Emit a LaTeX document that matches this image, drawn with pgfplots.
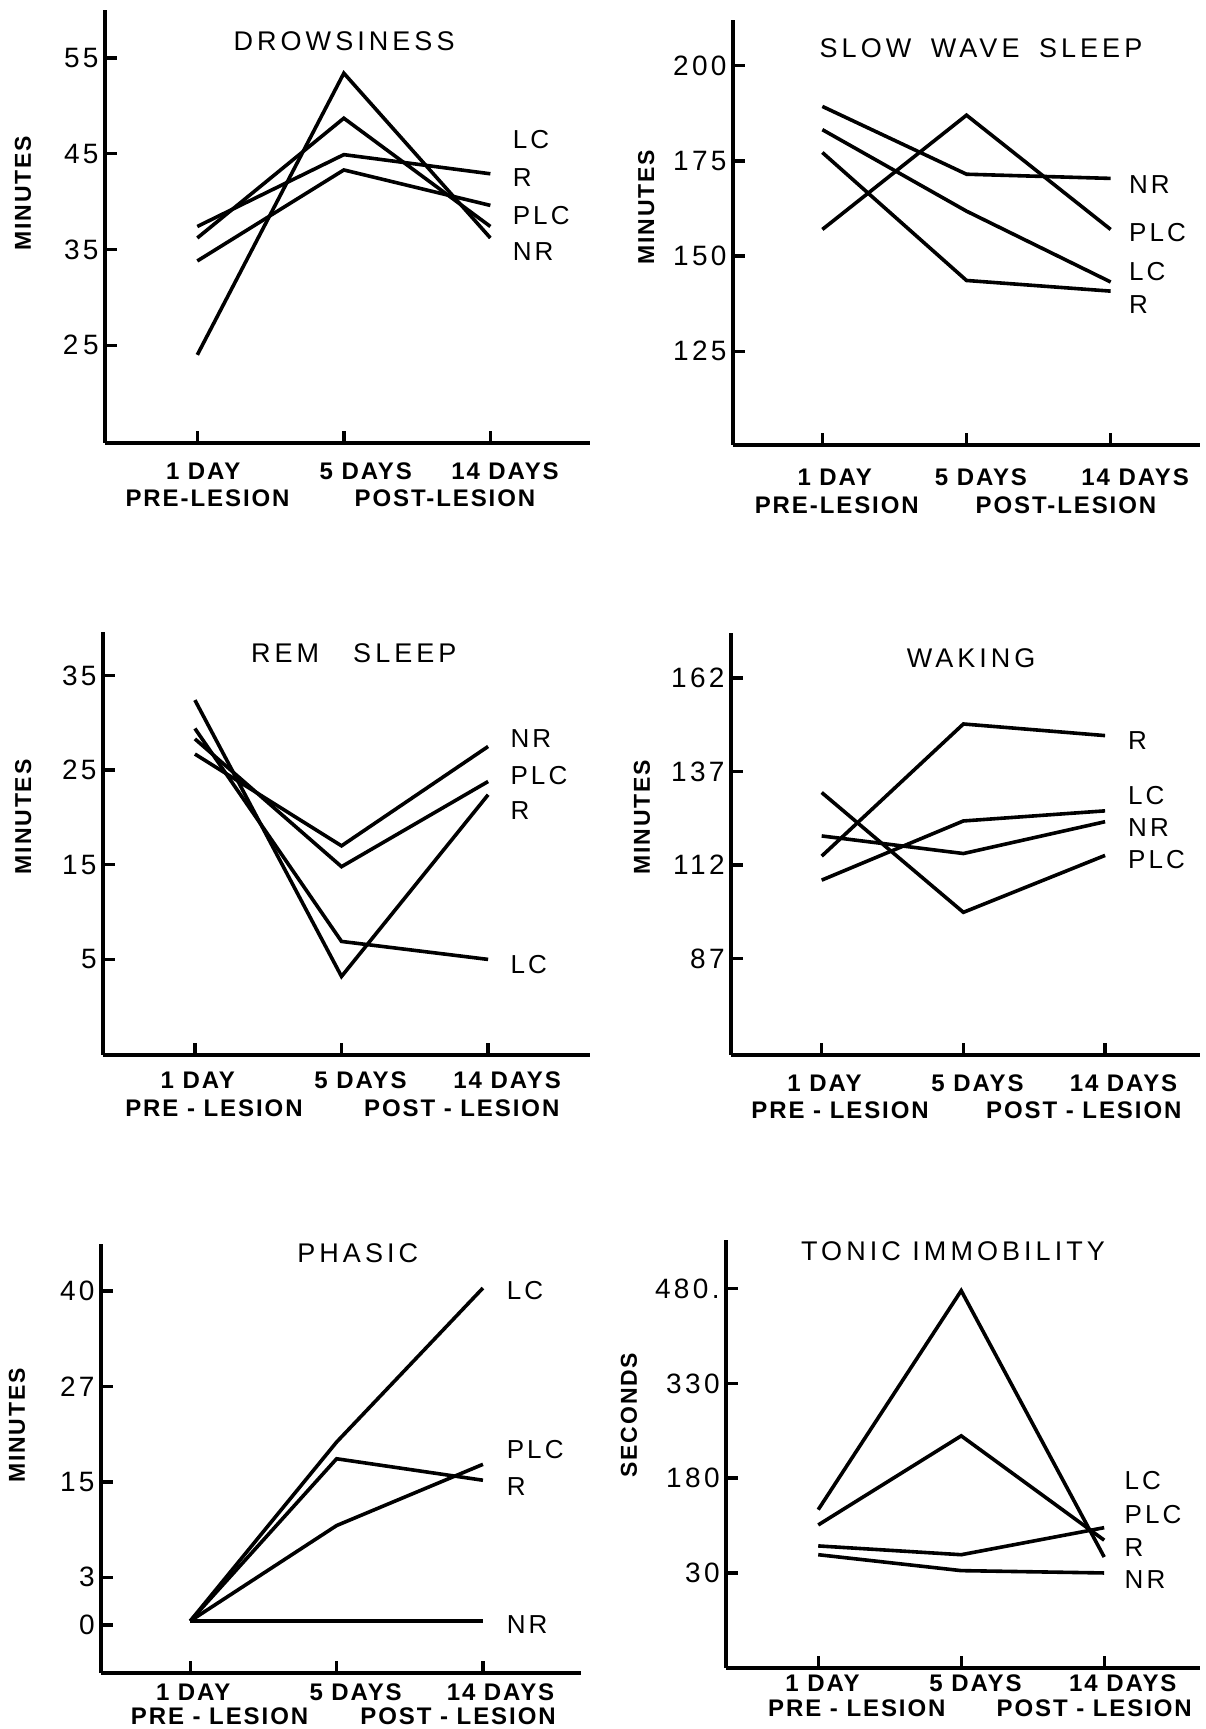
\documentclass[border=0pt]{standalone}
\usepackage{fontspec}
\setmainfont{Liberation Sans}
\newfontfamily\letteringfont[LetterSpace=15]{Liberation Sans}
\newfontfamily\numberfont[LetterSpace=12]{Liberation Sans}
\newfontfamily\boldletteringfont[LetterSpace=8]{Liberation Sans}
\usepackage{pgfplots}
\pgfplotsset{compat=1.18}

\newcommand\titlefont{\letteringfont\fontsize{13.5}{15}\selectfont}
\newcommand\tickfont{\numberfont\fontsize{14}{16}\selectfont}
\newcommand\groupfont{\numberfont\fontsize{13}{15}\selectfont}
\newcommand\daysfont{\boldletteringfont\bfseries\fontsize{12}{14}\selectfont}
\newcommand\unitfont{\boldletteringfont\bfseries\fontsize{11.5}{14}\selectfont}

% group name at the right-hand end of the curves
\newcommand\grp[3]{\node[anchor=west,inner sep=0pt,font=\groupfont] at (axis cs:#1,#2) {#3};}
% two-row time labels under the x axis; \xbase is the lower y limit of the axis
\newcommand\xlab[3]{\node[font=\daysfont,inner sep=0pt,yshift=-#2] at (axis cs:#1,\xbase) {#3};}

\pgfplotsset{
  panel/.style={
    scale only axis,
    axis lines=left,
    axis line style={-, line width=1.7pt},
    tick align=inside,
    xtick={0,1,2},
    xticklabels={},
    major tick length=6pt,
    every tick/.style={black, line width=1.7pt},
    yticklabel style={font=\tickfont, inner sep=3pt},
    clip=false,
  },
  curve/.style={black, line width=1.8pt, mark=none},
}

\begin{document}
\begin{tikzpicture}
\path[use as bounding box] (0,0) rectangle (602.5pt,864.5pt);

% ---------------- Drowsiness ----------------
\def\xbase{14.8}
\begin{axis}[panel, at={(52.5pt,643pt)}, anchor=south west,
  width=242.5pt, height=216.5pt,
  xmin=-0.63, xmax=2.68, ymin=14.8, ymax=60,
  ytick={25,35,45,55}, yticklabels={2\,5,35,45,55}]
\addplot[curve] coordinates {(0,24.0) (1,53.4) (2,36.2)};
\addplot[curve] coordinates {(0,36.2) (1,48.7) (2,37.4)};
\addplot[curve] coordinates {(0,37.4) (1,44.9) (2,42.9)};
\addplot[curve] coordinates {(0,33.8) (1,43.3) (2,39.6)};
\node[font=\titlefont] at (rel axis cs:0.493,0.928) {DROWSINESS};
\node[font=\unitfont, rotate=90] at (rel axis cs:-0.169,0.577) {MINUTES};
\grp{2.15}{46.5}{LC}
\grp{2.15}{42.5}{R}
\grp{2.15}{38.5}{PLC}
\grp{2.15}{34.8}{NR}
\xlab{0.04}{14pt}{1 DAY}
\xlab{1.15}{14pt}{5 DAYS}
\xlab{2.10}{14pt}{14 DAYS}
\xlab{0.07}{27.5pt}{PRE-LESION}
\xlab{1.69}{27.5pt}{POST-LESION}
\end{axis}

% ---------------- Slow wave sleep ----------------
\def\xbase{100.4}
\begin{axis}[panel, at={(366.5pt,642pt)}, anchor=south west,
  width=233.5pt, height=212.5pt,
  xmin=-0.62, xmax=2.62, ymin=100.4, ymax=212,
  ytick={125,150,175,200}, yticklabels={125,150,175,200}]
\addplot[curve] coordinates {(0,189.3) (1,171.5) (2,170.4)};
\addplot[curve] coordinates {(0,157.0) (1,187.0) (2,157.0)};
\addplot[curve] coordinates {(0,183.2) (1,161.8) (2,143.2)};
\addplot[curve] coordinates {(0,177.2) (1,143.6) (2,140.8)};
\node[font=\titlefont] at (rel axis cs:0.531,0.934) {SLOW\hspace{4pt} WAVE\hspace{4pt} SLEEP};
\node[font=\unitfont, rotate=90] at (rel axis cs:-0.186,0.56) {MINUTES};
\grp{2.125}{168.9}{NR}
\grp{2.125}{156.1}{PLC}
\grp{2.125}{146.0}{LC}
\grp{2.125}{137.3}{R}
\xlab{0.085}{16pt}{1 DAY}
\xlab{1.10}{16pt}{5 DAYS}
\xlab{2.17}{16pt}{14 DAYS}
\xlab{0.10}{30pt}{PRE-LESION}
\xlab{1.69}{30pt}{POST-LESION}
\end{axis}

% ---------------- REM sleep ----------------
\def\xbase{-5.1}
\begin{axis}[panel, at={(51.5pt,337pt)}, anchor=south west,
  width=243.5pt, height=211.5pt,
  xmin=-0.627, xmax=2.695, ymin=-5.1, ymax=39.6,
  ytick={5,15,25,35}, yticklabels={5,15,25,35}]
\addplot[curve] coordinates {(0,26.7) (1,17.0) (2,27.5)};
\addplot[curve] coordinates {(0,28.3) (1,14.8) (2,23.8)};
\addplot[curve] coordinates {(0,32.4) (1,3.2) (2,22.4)};
\addplot[curve] coordinates {(0,29.4) (1,6.9) (2,5.0)};
\node[font=\titlefont] at (rel axis cs:0.515,0.95) {REM\hspace{17pt}SLEEP};
\node[font=\unitfont, rotate=90] at (rel axis cs:-0.164,0.563) {MINUTES};
\grp{2.15}{28.3}{NR}
\grp{2.15}{24.4}{PLC}
\grp{2.15}{20.7}{R}
\grp{2.15}{4.5}{LC}
\xlab{0.02}{12.5pt}{1 DAY}
\xlab{1.13}{12.5pt}{5 DAYS}
\xlab{2.13}{12.5pt}{14 DAYS}
\xlab{0.13}{26.5pt}{PRE - LESION}
\xlab{1.82}{26.5pt}{POST - LESION}
\end{axis}

% ---------------- Waking ----------------
\def\xbase{61.3}
\begin{axis}[panel, at={(365.5pt,337pt)}, anchor=south west,
  width=234.5pt, height=211pt,
  xmin=-0.64, xmax=2.67, ymin=61.3, ymax=174,
  ytick={87,112,137,162}, yticklabels={87,112,137,162}]
\addplot[curve] coordinates {(0,114.4) (1,149.7) (2,146.6)};
\addplot[curve] coordinates {(0,108.0) (1,123.8) (2,126.5)};
\addplot[curve] coordinates {(0,119.8) (1,115.1) (2,123.6)};
\addplot[curve] coordinates {(0,131.4) (1,99.4) (2,114.6)};
\node[font=\titlefont] at (rel axis cs:0.512,0.94) {WAKING};
\node[font=\unitfont, rotate=90] at (rel axis cs:-0.19,0.564) {MINUTES};
\grp{2.16}{145.2}{R}
\grp{2.16}{130.5}{LC}
\grp{2.16}{122.0}{NR}
\grp{2.16}{113.5}{PLC}
\xlab{0.02}{14pt}{1 DAY}
\xlab{1.10}{14pt}{5 DAYS}
\xlab{2.13}{14pt}{14 DAYS}
\xlab{0.13}{27.5pt}{PRE - LESION}
\xlab{1.85}{27.5pt}{POST - LESION}
\end{axis}

% ---------------- Phasic (piecewise scale: 0,3,15,27,40) ----------------
\def\xbase{-3.02}
\begin{axis}[panel, at={(50.5pt,28pt)}, anchor=south west,
  width=240pt, height=214.5pt,
  y coord trafo/.code={\pgfmathparse{(#1<3) ? (#1/3) : ((#1<27) ? (1+(#1-3)/6) : (5+(#1-27)/6.5))}},
  xmin=-0.61, xmax=2.67, ymin=-3.02, ymax=46.4,
  ytick={0,3,15,27,40}, yticklabels={0,3,15,27,40}]
\addplot[curve] coordinates {(0,0.25) (1,20.0) (2,40.4)};
\addplot[curve] coordinates {(0,0.25) (1,9.5) (2,17.2)};
\addplot[curve] coordinates {(0,0.25) (1,17.9) (2,15.2)};
\addplot[curve] coordinates {(0,0.25) (1,0.25) (2,0.25)};
\node[font=\titlefont] at (rel axis cs:0.535,0.979) {PHASIC};
\node[font=\unitfont, rotate=90] at (rel axis cs:-0.175,0.577) {MINUTES};
\grp{2.16}{40}{LC}
\grp{2.16}{19.1}{PLC}
\grp{2.16}{14.4}{R}
\grp{2.16}{0}{NR}
\xlab{0.02}{9.5pt}{1 DAY}
\xlab{1.13}{9.5pt}{5 DAYS}
\xlab{2.12}{9.5pt}{14 DAYS}
\xlab{0.20}{21.5pt}{PRE - LESION}
\xlab{1.83}{21.5pt}{POST - LESION}
\end{axis}

% ---------------- Tonic immobility ----------------
\def\xbase{-120.4}
\begin{axis}[panel, at={(363pt,30.5pt)}, anchor=south west,
  width=237pt, height=214pt,
  xmin=-0.645, xmax=2.67, ymin=-120.4, ymax=557,
  ytick={30,180,330,480}, yticklabels={30,180,330,480.}]
\addplot[curve] coordinates {(0,130.2) (1,476.8) (2,55.2)};
\addplot[curve] coordinates {(0,106.0) (1,247.0) (2,81.9)};
\addplot[curve] coordinates {(0,72.8) (1,58.9) (2,101.7)};
\addplot[curve] coordinates {(0,58.9) (1,33.7) (2,30.0)};
\node[font=\titlefont] at (rel axis cs:0.479,0.974) {TONIC IMMOBILITY};
\node[font=\unitfont, rotate=90] at (rel axis cs:-0.205,0.591) {SECONDS};
\grp{2.14}{175.7}{LC}
\grp{2.14}{122.0}{PLC}
\grp{2.14}{71.0}{R}
\grp{2.14}{19.3}{NR}
\xlab{0.03}{7.5pt}{1 DAY}
\xlab{1.10}{7.5pt}{5 DAYS}
\xlab{2.13}{7.5pt}{14 DAYS}
\xlab{0.27}{20pt}{PRE - LESION}
\xlab{1.93}{20pt}{POST - LESION}
\end{axis}
\end{tikzpicture}
\end{document}
